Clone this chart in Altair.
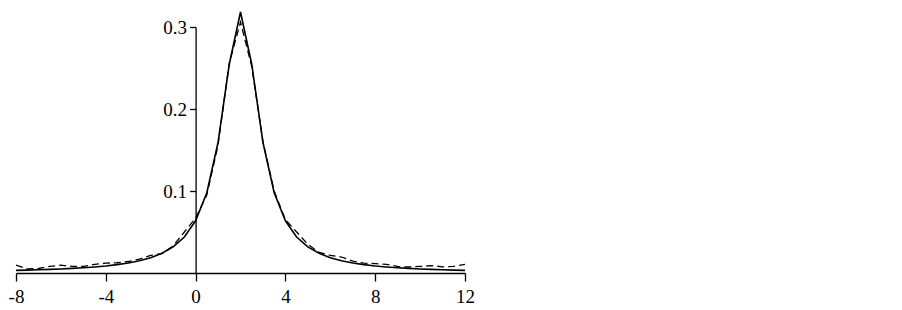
import altair as alt
import pandas as pd

x_vals = [-8, -7.5, -7, -6.5, -6, -5.5, -5, -4.5, -4, -3.5, -3, -2.5, -2, -1.5, -1, -0.5,
          0, 0.5, 1, 1.5, 2, 2.5, 3, 3.5, 4, 4.5, 5, 5.5, 6, 6.5, 7, 7.5, 8, 8.5, 9, 9.5,
          10, 10.5, 11, 11.5, 12]

solid = [0.0032, 0.0035, 0.0039, 0.0044, 0.0049, 0.0056, 0.0064, 0.0074, 0.0086, 0.0102,
         0.0122, 0.0150, 0.0187, 0.0240, 0.0318, 0.0439, 0.0637, 0.0979, 0.1592, 0.2546,
         0.3183,
         0.2546, 0.1592, 0.0979, 0.0637, 0.0439, 0.0318, 0.0240, 0.0187, 0.0150, 0.0122,
         0.0102, 0.0086, 0.0074, 0.0064, 0.0056, 0.0049, 0.0044, 0.0039, 0.0035, 0.0032]

dashed = [0.0095, 0.0050, 0.0055, 0.0080, 0.0095, 0.0080, 0.0080, 0.0105, 0.0120, 0.0125,
          0.0140, 0.0170, 0.0215, 0.0235, 0.0330, 0.0500, 0.0670, 0.0950, 0.1560, 0.2560,
          0.3060,
          0.2520, 0.1600, 0.1000, 0.0650, 0.0500, 0.0350, 0.0250, 0.0215, 0.0195, 0.0145,
          0.0120, 0.0115, 0.0105, 0.0080, 0.0073, 0.0080, 0.0090, 0.0075, 0.0080, 0.0105]

x_ticks = [-8, -4, 0, 4, 8, 12]
y_ticks = [0.1, 0.2, 0.3]

df = pd.DataFrame({"x": x_vals, "solid": solid, "dashed": dashed})

W = 449
H = 246
FONT = "Times New Roman, Liberation Serif, serif"

xs = alt.Scale(domain=[-8, 12], nice=False, zero=False)
ys = alt.Scale(domain=[0, 0.3], nice=False, zero=False)

xaxis = alt.Axis(values=x_ticks, labelExpr="'' + datum.value", title=None, grid=False,
                 tickSize=8, labelPadding=6, labelFlush=False, labelOverlap=False,
                 domainColor="black", tickColor="black", labelColor="black",
                 labelFont=FONT, labelFontSize=19, domainWidth=1.3, tickWidth=1.3)
yaxis = alt.Axis(values=y_ticks, format=".1f", title=None, grid=False,
                 tickSize=6, labelPadding=3, offset=-(8 / 20) * W,
                 domainColor="black", tickColor="black", labelColor="black",
                 labelFont=FONT, labelFontSize=19, domainWidth=1.3, tickWidth=1.3)

base = alt.Chart(df)

solid_line = base.mark_line(color="black", strokeWidth=1.6, clip=False).encode(
    x=alt.X("x:Q", scale=xs, axis=xaxis),
    y=alt.Y("solid:Q", scale=ys, axis=yaxis),
)
dashed_line = base.mark_line(color="black", strokeWidth=1.3, strokeDash=[7, 4], clip=False).encode(
    x=alt.X("x:Q", scale=xs),
    y=alt.Y("dashed:Q", scale=ys),
)

chart = alt.layer(solid_line, dashed_line).properties(
    width=W, height=H,
    padding={"left": 0, "top": 0, "right": 5, "bottom": 5},
    background="white",
).configure_view(stroke=None)

chart.save("out.html", embed_options={"renderer": "svg", "actions": False})
